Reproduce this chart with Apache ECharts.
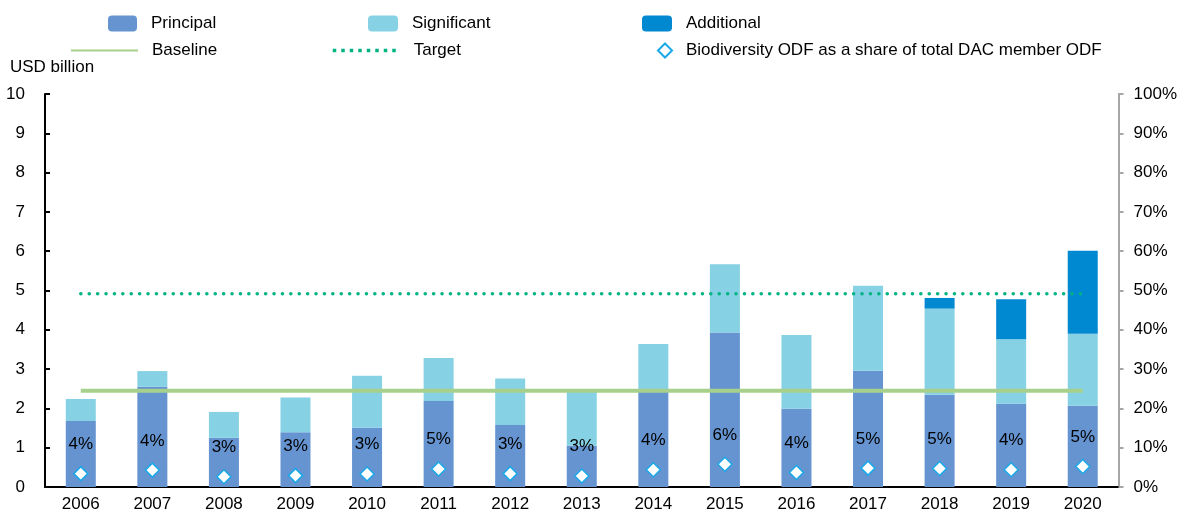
<!DOCTYPE html>
<html>
<head>
<meta charset="utf-8">
<script src="https://cdn.jsdelivr.net/npm/echarts@6/dist/echarts.min.js"></script>
<style>
  html, body { margin: 0; padding: 0; background: #fff; }
  #chart { width: 1180px; height: 513px; }
</style>
</head>
<body>
<div id="chart"></div>
<script>
// years on the x axis
const years = ['2006', '2007', '2008', '2009', '2010', '2011', '2012', '2013', '2014', '2015', '2016', '2017', '2018', '2019', '2020'];
// USD billion, stacked
const principal   = [1.68, 2.55, 1.25, 1.39, 1.51, 2.19, 1.58, 1.05, 2.42, 3.93, 1.99, 2.96, 2.35, 2.12, 2.07];
const significant = [0.56, 0.40, 0.66, 0.89, 1.32, 1.09, 1.18, 1.38, 1.22, 1.74, 1.88, 2.16, 2.19, 1.64, 1.83];
const additional  = [0, 0, 0, 0, 0, 0, 0, 0, 0, 0, 0, 0, 0.27, 1.02, 2.11];
// share of total DAC member ODF (%), right axis
const share       = [3.4, 4.3, 2.6, 2.9, 3.3, 4.6, 3.4, 2.8, 4.4, 5.8, 3.7, 4.8, 4.7, 4.4, 5.2];
const shareLabels = ['4%', '4%', '3%', '3%', '3%', '5%', '3%', '3%', '4%', '6%', '4%', '5%', '5%', '4%', '5%'];
// reference levels, USD billion
const baselineLevel = 2.45;
const targetLevel = 4.92;

const FONT = "'Liberation Sans Narrow', 'Arial Narrow', 'Liberation Sans', Arial, sans-serif";
const FS = 17;
const C_PRINCIPAL = '#6594d0';
const C_SIGNIFICANT = '#86d1e4';
const C_ADDITIONAL = '#0088d1';
const C_BASELINE = '#a6d08b';
const C_TARGET = '#00b383';
const C_DIAMOND = '#1aa9e8';

// one legend per item so every entry sits where it does in the reference
function legendAt(name, left, top, w, h, extra) {
  const lg = {
    data: [name], left: left, top: top, padding: 0,
    itemWidth: w, itemHeight: h, selectedMode: false,
    textStyle: { fontFamily: FONT, fontSize: FS, color: '#000', padding: [0, 0, 0, 9] }
  };
  return Object.assign(lg, extra || {});
}

const chart = echarts.init(document.getElementById('chart'));
chart.setOption({
  animation: false,
  textStyle: { fontFamily: FONT },
  title: {
    text: 'USD billion', left: 10, top: 59, padding: 0,
    textStyle: { fontFamily: FONT, fontSize: FS, fontWeight: 'normal', color: '#000' }
  },
  legend: [
    legendAt('Principal', 108, 15, 29, 16),
    legendAt('Significant', 368, 15, 30, 16),
    legendAt('Additional', 642, 15, 30, 16),
    legendAt('Baseline', 70, 42, 67, 14, { itemStyle: { opacity: 0 } }),
    legendAt('Target', 331, 42, 67, 14, {
      itemStyle: { opacity: 0 },
      lineStyle: { type: [3.5, 5], width: 3.5, cap: 'butt' }
    }),
    legendAt('Biodiversity ODF as a share of total DAC member ODF', 657, 42, 14, 14)
  ],
  grid: { left: 45, right: 61, top: 94, bottom: 25 },
  xAxis: {
    type: 'category',
    data: years,
    axisLine: { lineStyle: { color: '#000', width: 2 } },
    axisTick: { inside: true, length: 6, lineStyle: { color: '#000', width: 2 } },
    axisLabel: { color: '#000', fontSize: FS, margin: 9 }
  },
  yAxis: [{
    type: 'value', min: 0, max: 10, interval: 1,
    splitLine: { show: false },
    axisLine: { show: true, lineStyle: { color: '#000', width: 2 } },
    axisTick: { show: true, inside: true, length: 5, lineStyle: { color: '#000', width: 2 } },
    axisLabel: { color: '#000', fontSize: FS, margin: 20 }
  }, {
    type: 'value', min: 0, max: 100, interval: 10,
    splitLine: { show: false },
    axisLine: { show: true, lineStyle: { color: '#a6a6a6', width: 2 } },
    axisTick: { show: true, length: 5, lineStyle: { color: '#a6a6a6', width: 2 } },
    axisLabel: { color: '#000', fontSize: FS, margin: 15, formatter: '{value}%' }
  }],
  series: [
    { name: 'Principal', type: 'bar', stack: 'odf', barWidth: 30, data: principal,
      itemStyle: { color: C_PRINCIPAL } },
    { name: 'Significant', type: 'bar', stack: 'odf', barWidth: 30, data: significant,
      itemStyle: { color: C_SIGNIFICANT } },
    { name: 'Additional', type: 'bar', stack: 'odf', barWidth: 30, data: additional,
      itemStyle: { color: C_ADDITIONAL } },
    { name: 'Baseline', type: 'line', symbol: 'none', showSymbol: false, z: 3,
      data: [[years[0], baselineLevel], [years[years.length - 1], baselineLevel]],
      lineStyle: { color: C_BASELINE, width: 4 }, itemStyle: { color: C_BASELINE } },
    { name: 'Target', type: 'line', symbol: 'none', showSymbol: false, z: 3,
      data: [[years[0], targetLevel], [years[years.length - 1], targetLevel]],
      lineStyle: { color: C_TARGET, width: 3.5, type: [0.1, 8.3], cap: 'round' },
      itemStyle: { color: C_TARGET } },
    { name: 'Biodiversity ODF as a share of total DAC member ODF', type: 'scatter',
      yAxisIndex: 1, z: 5, symbol: 'diamond', symbolSize: 14, data: share,
      itemStyle: { color: '#fff', borderColor: C_DIAMOND, borderWidth: 1.5, opacity: 1 },
      label: {
        show: true, position: 'top', distance: 13, color: '#000', fontSize: FS,
        fontFamily: FONT, formatter: function (p) { return shareLabels[p.dataIndex]; }
      } }
  ]
});
</script>
</body>
</html>
